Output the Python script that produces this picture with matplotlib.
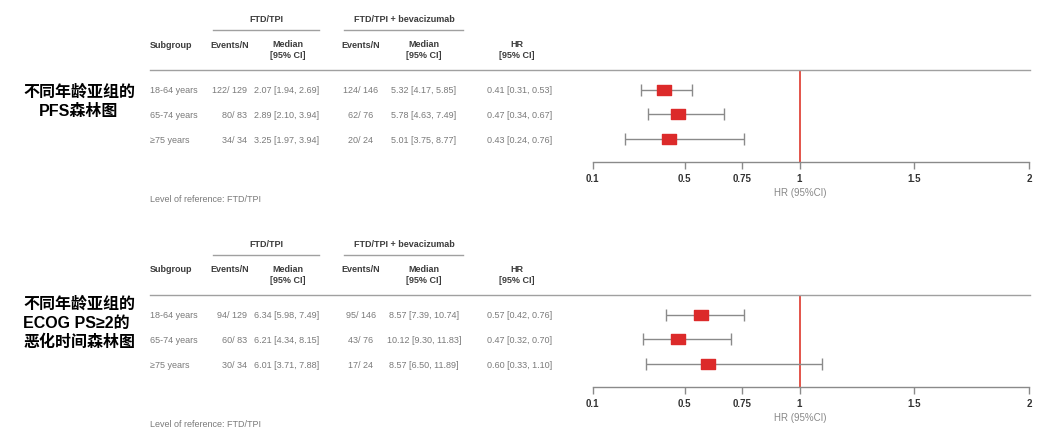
import numpy as np
import matplotlib.pyplot as plt
from matplotlib.path import Path
from matplotlib.lines import Line2D
from matplotlib.transforms import blended_transform_factory

plt.rcParams['font.family'] = ['Liberation Sans', 'DejaVu Sans']

subgroups = ['18-64 years', '65-74 years', '≥75 years']

# PFS panel
pfs_ctrl_events = ['122/ 129', '80/ 83', '34/ 34']
pfs_ctrl_median = ['2.07 [1.94, 2.69]', '2.89 [2.10, 3.94]', '3.25 [1.97, 3.94]']
pfs_bev_events = ['124/ 146', '62/ 76', '20/ 24']
pfs_bev_median = ['5.32 [4.17, 5.85]', '5.78 [4.63, 7.49]', '5.01 [3.75, 8.77]']
pfs_hr = [0.41, 0.47, 0.43]
pfs_lo = [0.31, 0.34, 0.24]
pfs_hi = [0.53, 0.67, 0.76]

# time to ECOG PS>=2 panel
ecog_ctrl_events = ['94/ 129', '60/ 83', '30/ 34']
ecog_ctrl_median = ['6.34 [5.98, 7.49]', '6.21 [4.34, 8.15]', '6.01 [3.71, 7.88]']
ecog_bev_events = ['95/ 146', '43/ 76', '17/ 24']
ecog_bev_median = ['8.57 [7.39, 10.74]', '10.12 [9.30, 11.83]', '8.57 [6.50, 11.89]']
ecog_hr = [0.57, 0.47, 0.60]
ecog_lo = [0.42, 0.32, 0.33]
ecog_hi = [0.76, 0.70, 1.10]

xticks = [0.1, 0.5, 0.75, 1, 1.5, 2]
xticklabels = ['0.1', '0.5', '0.75', '1', '1.5', '2']

W, H = 1058, 435
fig = plt.figure(figsize=(W / 100, H / 100), dpi=100)
fig.patch.set_facecolor('white')


def fx(px):
    return px / W


def fy(py):
    return 1 - py / H


box = Path([(-1, -0.64), (1, -0.64), (1, 0.64), (-1, 0.64), (-1, -0.64)], closed=True)
gray_txt = '#7a7a7a'
head_txt = '#3c3c3c'
line_col = '#a0a0a0'
fs = 6.5


def draw_panel(off, ctrl_ev, ctrl_med, bev_ev, bev_med, hr, lo, hi):
    ax = fig.add_axes([fx(592.7), fy(163 + off), (1029.3 - 592.7) / W, (163 - 71) / H])
    ax.set_xlim(0.1, 2)
    ax.set_ylim(3.915, 0.206)
    rows = np.arange(1, len(hr) + 1)
    hr = np.array(hr)
    lo = np.array(lo)
    hi = np.array(hi)

    ax.axvline(1, color='#e0473c', lw=1.3, zorder=1)
    ax.errorbar(hr, rows, xerr=[hr - lo, hi - hr], fmt='none', ecolor='#8a8a8a',
                elinewidth=1, capsize=4, capthick=1, zorder=2)
    ax.plot(hr, rows, ls='none', marker=box, ms=10.3, color='#dc2a2a', zorder=3)

    for s in ['left', 'right', 'top']:
        ax.spines[s].set_visible(False)
    ax.spines['bottom'].set_color('#8a8a8a')
    ax.spines['bottom'].set_linewidth(1)
    ax.set_yticks([])
    ax.set_xticks(xticks)
    ax.set_xticklabels(xticklabels, fontsize=7, fontweight='bold', color='#333333')
    ax.tick_params(axis='x', direction='out', length=5, width=1, color='#8a8a8a', pad=3)
    ax.patch.set_alpha(0)

    # table rows, y in data units of the forest axis
    tr = blended_transform_factory(fig.transFigure, ax.transData)
    for i, r in enumerate(rows):
        kw = dict(transform=tr, fontsize=fs, color=gray_txt, va='center', clip_on=False)
        ax.text(fx(150), r, subgroups[i], ha='left', **kw)
        ax.text(fx(247), r, ctrl_ev[i], ha='right', **kw)
        ax.text(fx(319), r, ctrl_med[i], ha='right', **kw)
        ax.text(fx(361), r, bev_ev[i], ha='center', **kw)
        ax.text(fx(424), r, bev_med[i], ha='center', **kw)
        ax.text(fx(487), r, f'{hr[i]:.2f} [{lo[i]:.2f}, {hi[i]:.2f}]', ha='left', **kw)

    # headers
    hk = dict(fontsize=fs, color=head_txt, fontweight='bold', va='center')
    fig.text(fx(266), fy(20 + off), 'FTD/TPI', ha='center', **hk)
    fig.text(fx(404), fy(20 + off), 'FTD/TPI + bevacizumab', ha='center', **hk)
    for x0, x1 in [(213, 319), (344, 463)]:
        fig.add_artist(Line2D([fx(x0), fx(x1)], [fy(31 + off)] * 2, color=line_col, lw=1))
    fig.text(fx(171), fy(45 + off), 'Subgroup', ha='center', **hk)
    fig.text(fx(230), fy(45 + off), 'Events/N', ha='center', **hk)
    fig.text(fx(288), fy(50 + off), 'Median\n[95% CI]', ha='center', linespacing=1.25, **hk)
    fig.text(fx(361), fy(45 + off), 'Events/N', ha='center', **hk)
    fig.text(fx(424), fy(50 + off), 'Median\n[95% CI]', ha='center', linespacing=1.25, **hk)
    fig.text(fx(517), fy(50 + off), 'HR\n[95% CI]', ha='center', linespacing=1.25, **hk)
    fig.add_artist(Line2D([fx(150), fx(1030)], [fy(71 + off)] * 2, color=line_col, lw=1))

    fig.text(fx(800), fy(193 + off), 'HR (95%CI)', ha='center', va='center',
             fontsize=7, color='#888888')
    fig.text(fx(150), fy(200 + off), 'Level of reference: FTD/TPI', ha='left', va='center',
             fontsize=fs, color=gray_txt)
    return ax


draw_panel(0, pfs_ctrl_events, pfs_ctrl_median, pfs_bev_events, pfs_bev_median,
           pfs_hr, pfs_lo, pfs_hi)
draw_panel(225, ecog_ctrl_events, ecog_ctrl_median, ecog_bev_events, ecog_bev_median,
           ecog_hr, ecog_lo, ecog_hi)

cjk = ['Liberation Sans', 'Noto Sans CJK SC', 'DejaVu Sans']
fig.text(fx(79), fy(102), '不同年龄亚组的\nPFS森林图', ha='center', va='center',
         multialignment='center', family=cjk, fontsize=11.5, fontweight='bold',
         linespacing=1.35, color='black')
fig.text(fx(23), fy(323), '不同年龄亚组的\nECOG PS≥2的\n恶化时间森林图', ha='left', va='center',
         multialignment='left', family=cjk, fontsize=11.5, fontweight='bold',
         linespacing=1.35, color='black')

fig.savefig('out.png', dpi=100)
